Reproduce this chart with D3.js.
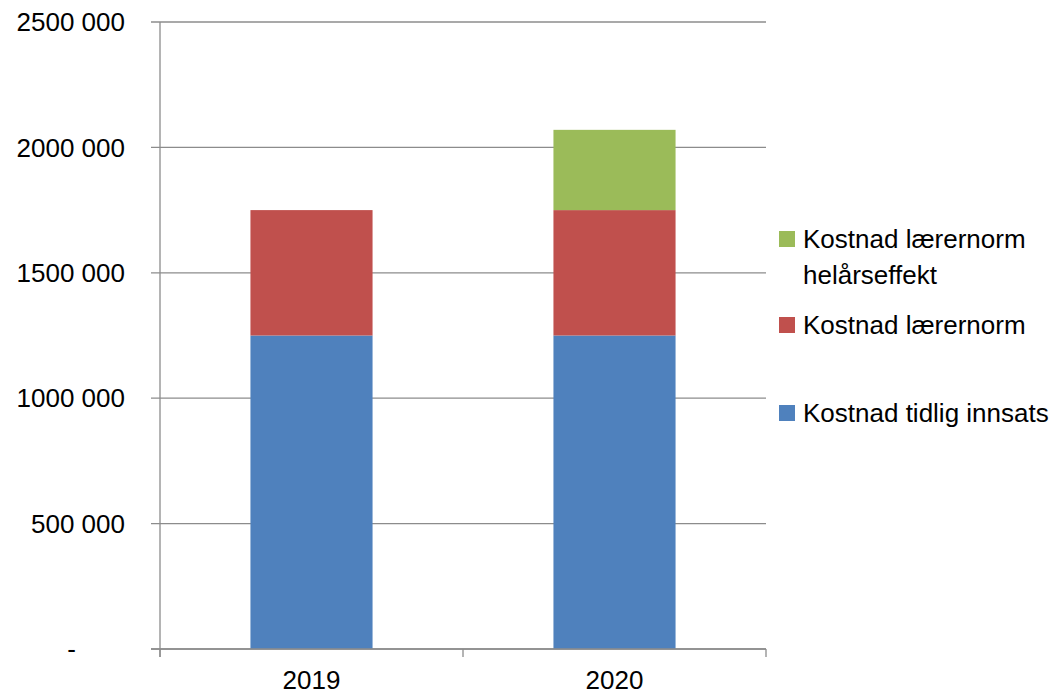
<!DOCTYPE html>
<html>
<head>
<meta charset="utf-8">
<script src="https://cdn.jsdelivr.net/npm/d3@7"></script>
<style>
  body { margin: 0; background: #fff; }
  text { font-family: "Liberation Sans", Arial, sans-serif; fill: #000; }
</style>
</head>
<body>
<svg id="chart" width="1059" height="699"></svg>
<script>
const years = ["2019", "2020"];
const tidligInnsats = [1250000, 1250000];
const laerernorm = [500000, 500000];
const helarseffekt = [0, 320000];
const yTicks = [0, 500000, 1000000, 1500000, 2000000, 2500000];

const seriesNames = ["Kostnad tidlig innsats", "Kostnad lærernorm", "Kostnad lærernorm helårseffekt"];
const colors = ["#4f81bd", "#c0504d", "#9bbb59"];

const width = 1059, height = 699;
const margin = { top: 22, right: 293, bottom: 50, left: 160 };

const svg = d3.select("#chart");

// build rows for the stack
const rows = years.map((y, i) => ({
    year: y,
    a: tidligInnsats[i],
    b: laerernorm[i],
    c: helarseffekt[i]
}));
const stack = d3.stack().keys(["a", "b", "c"])(rows);

const x = d3.scaleBand()
    .domain(years)
    .range([margin.left, width - margin.right])
    .paddingInner(0.597)
    .paddingOuter(0.2985);

const y = d3.scaleLinear()
    .domain([0, 2500000])
    .range([height - margin.bottom, margin.top]);

const fmt = v => v === 0 ? "-" : d3.format(",")(v).replace(/,/g, " ").replace(/^(\d) (\d{3}) /, "$1$2 ");

// gridlines
svg.append("g")
    .selectAll("line")
    .data(yTicks)
    .join("line")
    .attr("x1", margin.left - 9)
    .attr("x2", width - margin.right)
    .attr("y1", d => y(d))
    .attr("y2", d => y(d))
    .attr("stroke", "#8c8c8c")
    .attr("stroke-width", 1.3);

// y labels
svg.append("g")
    .selectAll("text")
    .data(yTicks)
    .join("text")
    .attr("x", d => d === 0 ? 76 : 125)
    .attr("y", d => y(d))
    .attr("dy", "0.35em")
    .attr("text-anchor", "end")
    .attr("font-size", "26px")
    .text(d => fmt(d));

// bars
svg.append("g")
    .selectAll("g")
    .data(stack)
    .join("g")
    .attr("fill", (d, i) => colors[i])
    .selectAll("rect")
    .data(d => d.filter(p => p[1] > p[0]))
    .join("rect")
    .attr("x", d => x(d.data.year))
    .attr("width", x.bandwidth())
    .attr("y", d => y(d[1]))
    .attr("height", d => y(d[0]) - y(d[1]));

// left axis line
svg.append("line")
    .attr("x1", margin.left).attr("x2", margin.left)
    .attr("y1", margin.top).attr("y2", height - margin.bottom + 8)
    .attr("stroke", "#8c8c8c").attr("stroke-width", 1.3);

// x axis
const xAxis = svg.append("g")
    .attr("transform", `translate(0,${height - margin.bottom})`)
    .call(d3.axisBottom(x).tickSize(0).tickPadding(22));
xAxis.select(".domain").remove();
xAxis.selectAll("text")
    .attr("font-size", "26px")
    .attr("font-family", "Liberation Sans, Arial, sans-serif")
    .attr("fill", "#000");

svg.append("line")
    .attr("x1", margin.left - 9).attr("x2", width - margin.right)
    .attr("y1", y(0)).attr("y2", y(0))
    .attr("stroke", "#8c8c8c").attr("stroke-width", 1.3);

const step = x.step();
svg.append("g")
    .selectAll("line")
    .data(d3.range(years.length + 1))
    .join("line")
    .attr("x1", i => margin.left + i * step)
    .attr("x2", i => margin.left + i * step)
    .attr("y1", y(0))
    .attr("y2", y(0) + 8)
    .attr("stroke", "#8c8c8c")
    .attr("stroke-width", 1.3);

// legend (top entry first, as Excel does)
const legend = [
    { name: seriesNames[2], lines: ["Kostnad lærernorm", "helårseffekt"], color: colors[2], y: 239 },
    { name: seriesNames[1], lines: ["Kostnad lærernorm"], color: colors[1], y: 325 },
    { name: seriesNames[0], lines: ["Kostnad tidlig innsats"], color: colors[0], y: 413 }
];

const lg = svg.append("g").selectAll("g")
    .data(legend)
    .join("g")
    .attr("transform", d => `translate(779,${d.y})`);

lg.append("rect")
    .attr("x", 0).attr("y", -8)
    .attr("width", 16).attr("height", 16)
    .attr("fill", d => d.color);

lg.append("text")
    .attr("x", 24)
    .attr("font-size", "26px")
    .selectAll("tspan")
    .data(d => d.lines)
    .join("tspan")
    .attr("x", 24)
    .attr("y", (d, i) => i * 36)
    .attr("dy", "0.35em")
    .text(d => d);
</script>
</body>
</html>
